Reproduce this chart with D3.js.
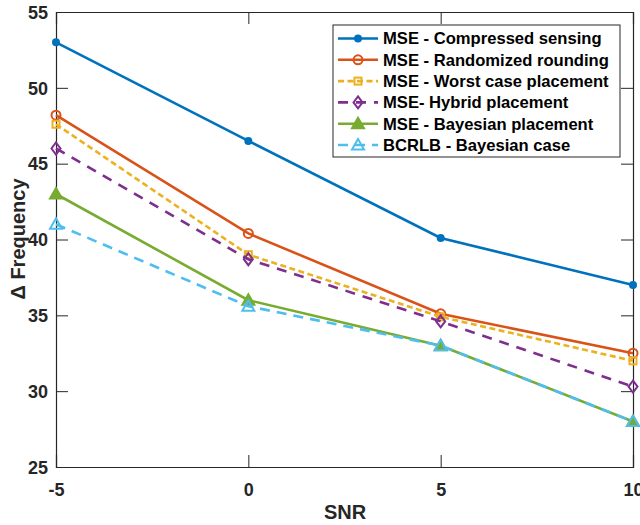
<!DOCTYPE html>
<html><head><meta charset="utf-8">
<script src="https://cdn.jsdelivr.net/npm/d3@7"></script>
<style>body{margin:0;background:#fff}svg{display:block;font-family:"Liberation Sans",Arial,Helvetica,sans-serif}</style>
</head><body><svg id="c" width="640" height="525"></svg>
<script>
const snr = [-5, 0, 5, 10];
const xTicks = [-5, 0, 5, 10];
const yTicks = [25, 30, 35, 40, 45, 50, 55];
const names = ["MSE - Compressed sensing","MSE - Randomized rounding","MSE - Worst case placement","MSE- Hybrid placement","MSE - Bayesian placement","BCRLB - Bayesian case"];
const compressed = [53, 46.5, 40.1, 37];
const randomized = [48.2, 40.4, 35.1, 32.5];
const worst = [47.6, 39, 34.9, 32];
const hybrid = [46, 38.7, 34.6, 30.3];
const bayesian = [43, 36, 33, 28];
const bcrlb = [41, 35.6, 33, 28];
const colors = ["#0072BD","#D95319","#EDB120","#7E2F8E","#77AC30","#4DBEEE"];

const series = [
  {name:names[0], v:compressed, c:colors[0], dash:null, m:"dot"},
  {name:names[1], v:randomized, c:colors[1], dash:null, m:"circle"},
  {name:names[2], v:worst, c:colors[2], dash:"6,3.5", m:"square"},
  {name:names[3], v:hybrid, c:colors[3], dash:"10,8", m:"diamond"},
  {name:names[4], v:bayesian, c:colors[4], dash:null, m:"trifill"},
  {name:names[5], v:bcrlb, c:colors[5], dash:"10,7", m:"tri"}
];

const svg = d3.select("#c");
const L=56, T=12, R=633, B=467;
const x = d3.scaleLinear().domain([-5,10]).range([L,R]);
const y = d3.scaleLinear().domain([25,55]).range([B,T]);
const ax = "#262626";
const fmt = d => String(d);

// axes with inward ticks
const gx = svg.append("g").attr("transform",`translate(0,${B})`)
  .call(d3.axisBottom(x).tickValues(xTicks).tickSize(-12).tickPadding(16).tickFormat(fmt));
const gxt = svg.append("g").attr("transform",`translate(0,${T})`)
  .call(d3.axisTop(x).tickValues(xTicks).tickSize(-12).tickFormat(""));
const gy = svg.append("g").attr("transform",`translate(${L},0)`)
  .call(d3.axisLeft(y).tickValues(yTicks).tickSize(-12).tickPadding(8).tickFormat(fmt));
const gyr = svg.append("g").attr("transform",`translate(${R},0)`)
  .call(d3.axisRight(y).tickValues(yTicks).tickSize(-12).tickFormat(""));
[gx,gxt,gy,gyr].forEach(g=>{
  g.select(".domain").attr("stroke",ax).attr("stroke-width",1.2);
  g.selectAll(".tick line").attr("stroke",ax).attr("stroke-width",1);
  g.selectAll("text").attr("fill",ax).attr("font-size",18).attr("font-weight","bold")
   .attr("font-family","'Liberation Sans',Arial,sans-serif");
});
gy.selectAll("text").attr("dy","0.35em");

// axis labels
svg.append("text").attr("x",345).attr("y",519).attr("text-anchor","middle")
  .attr("font-size",20).attr("font-weight","bold").attr("fill",ax).text("SNR");
svg.append("text").attr("transform","translate(25,239) rotate(-90)").attr("text-anchor","middle")
  .attr("font-size",20).attr("font-weight","bold").attr("fill",ax).text("Δ Frequency");

function marker(g, type, cx, cy, c){
  if(type==="dot") g.append("circle").attr("cx",cx).attr("cy",cy).attr("r",4).attr("fill",c);
  else if(type==="circle") g.append("circle").attr("cx",cx).attr("cy",cy).attr("r",4.5).attr("fill","none").attr("stroke",c).attr("stroke-width",2);
  else if(type==="square") g.append("rect").attr("x",cx-3.5).attr("y",cy-3.5).attr("width",7).attr("height",7).attr("fill","none").attr("stroke",c).attr("stroke-width",2);
  else if(type==="diamond") g.append("path").attr("d",`M${cx},${cy-6}L${cx+4.5},${cy}L${cx},${cy+6}L${cx-4.5},${cy}Z`).attr("fill","none").attr("stroke",c).attr("stroke-width",2);
  else if(type==="trifill"||type==="tri") g.append("path").attr("d",`M${cx},${cy-6}L${cx+6},${cy+4.5}L${cx-6},${cy+4.5}Z`)
      .attr("fill",type==="trifill"?c:"none").attr("stroke",c).attr("stroke-width",2);
}

const line = d3.line().x((d,i)=>x(snr[i])).y(d=>y(d));
series.forEach(s=>{
  const g = svg.append("g");
  g.append("path").attr("d",line(s.v)).attr("fill","none").attr("stroke",s.c)
    .attr("stroke-width",2.6).attr("stroke-dasharray",s.dash);
  s.v.forEach((v,i)=>marker(g,s.m,x(snr[i]),y(v),s.c));
});

// legend
const lg = svg.append("g");
lg.append("rect").attr("x",333).attr("y",25).attr("width",287).attr("height",132)
  .attr("fill","#fff").attr("stroke",ax).attr("stroke-width",1);
series.forEach((s,i)=>{
  const yy = 38.5 + i*21.3;
  lg.append("line").attr("x1",338).attr("x2",378).attr("y1",yy).attr("y2",yy)
    .attr("stroke",s.c).attr("stroke-width",2.6).attr("stroke-dasharray",s.dash);
  marker(lg,s.m,358,yy,s.c);
  lg.append("text").attr("x",383).attr("y",yy).attr("dy","0.35em").attr("font-size",16.6)
    .attr("font-weight","bold").attr("fill","#000").text(s.name);
});
</script></body></html>
